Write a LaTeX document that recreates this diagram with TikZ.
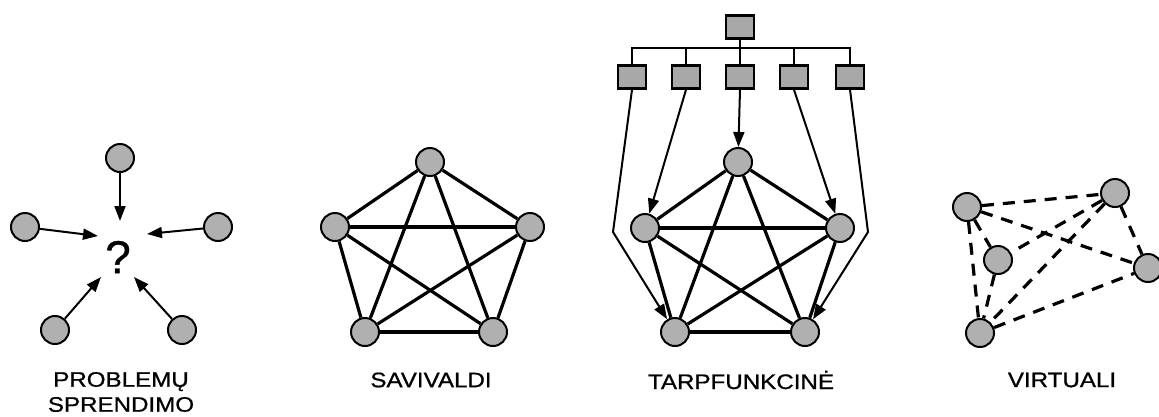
\documentclass[tikz,border=0pt]{standalone}
\usepackage{fontspec}
\setmainfont{Liberation Sans}
\newfontfamily\lblfont[FakeBold=0.8]{Liberation Sans}
\usetikzlibrary{arrows.meta}
\begin{document}
\begin{tikzpicture}[x=1pt,y=-1pt,
  dot/.style={circle,draw=black,line width=2pt,fill=gray!62,minimum size=28pt,inner sep=0pt},
  sq/.style={rectangle,draw=black,line width=2.4pt,fill=gray!68,minimum width=28pt,minimum height=23pt,inner sep=0pt},
  edge/.style={line width=3.2pt,black},
  arr/.style={line width=2pt,-{Triangle[length=15pt,width=11pt]}},
  vline/.style={line width=3.2pt,dash pattern=on 12pt off 9pt},
  lbl/.style={font=\lblfont\fontsize{21}{25}\selectfont,xscale=1.15,align=center}
]
\useasboundingbox (0,0) rectangle (1159,416);
% Panel 1
\node[dot] (p1t) at (120,158) {};
\node[dot] (p1l) at (25,227) {};
\node[dot] (p1r) at (218,227) {};
\node[dot] (p1bl) at (55,330) {};
\node[dot] (p1br) at (182,330) {};
\node[font=\lblfont\fontsize{46}{46}\selectfont] (q) at (118,257) {?};
\coordinate (e1t) at (120,221);
\coordinate (e1l) at (98,236);
\coordinate (e1r) at (147,234);
\coordinate (e1bl) at (101,277);
\coordinate (e1br) at (134,277);
\draw[arr] (p1t) -- (e1t);
\draw[arr] (p1l) -- (e1l);
\draw[arr] (p1r) -- (e1r);
\draw[arr] (p1bl) -- (e1bl);
\draw[arr] (p1br) -- (e1br);
\node[lbl] (l1) at (121,392) {PROBLEMŲ\\SPRENDIMO};
% Panel 2
\node[dot] (p2t) at (430,162) {};
\node[dot] (p2l) at (335,227) {};
\node[dot] (p2r) at (530,227) {};
\node[dot] (p2bl) at (365,332) {};
\node[dot] (p2br) at (493,332) {};
\foreach \a/\b in {p2t/p2l,p2t/p2r,p2t/p2bl,p2t/p2br,p2l/p2r,p2l/p2bl,p2l/p2br,p2r/p2bl,p2r/p2br,p2bl/p2br}
  \draw[edge] (\a) -- (\b);
\node[lbl] (l2) at (431,380) {SAVIVALDI};
% Panel 3
\node[sq] (s0) at (740,27) {};
\node[sq] (s1) at (632,77) {};
\node[sq] (s2) at (686,77) {};
\node[sq] (s3) at (740,77) {};
\node[sq] (s4) at (794,77) {};
\node[sq] (s5) at (850,77) {};
\coordinate (bus) at (740,48);
\draw[line width=2pt] (s1.north) |- (bus) -| (s5.north);
\draw[line width=2pt] (s0.south) -- (s3.north);
\draw[line width=2pt] (s2.north) -- (s2.north |- bus);
\draw[line width=2pt] (s4.north) -- (s4.north |- bus);
\node[dot] (p3t) at (738,162) {};
\node[dot] (p3l) at (645,228) {};
\node[dot] (p3r) at (840,228) {};
\node[dot] (p3bl) at (675,332) {};
\node[dot] (p3br) at (805,332) {};
\foreach \a/\b in {p3t/p3l,p3t/p3r,p3t/p3bl,p3t/p3br,p3l/p3r,p3l/p3bl,p3l/p3br,p3r/p3bl,p3r/p3br,p3bl/p3br}
  \draw[edge] (\a) -- (\b);
\coordinate (k1) at (613,232);
\coordinate (k5) at (868,232);
\draw[arr] (s1.south) -- (k1) -- (p3bl);
\draw[arr] (s2.south) -- (p3l);
\draw[arr] (s3.south) -- (p3t);
\draw[arr] (s4.south) -- (p3r);
\draw[arr] (s5.south) -- (k5) -- (p3br);
\node[lbl] (l3) at (741,380) {TARPFUNKCINĖ};
% Panel 4
\node[dot] (va) at (967,207) {};
\node[dot] (vb) at (1115,193) {};
\node[dot] (vc) at (998,260) {};
\node[dot] (vd) at (1148,268) {};
\node[dot] (ve) at (980,333) {};
\foreach \a/\b in {va/vb,va/vd,va/vc,va/ve,vb/vc,vb/ve,vb/vd,vc/ve,ve/vd}
  \draw[vline] (\a) -- (\b);
\node[lbl] (l4) at (1062,380) {VIRTUALI};
\end{tikzpicture}
\end{document}
